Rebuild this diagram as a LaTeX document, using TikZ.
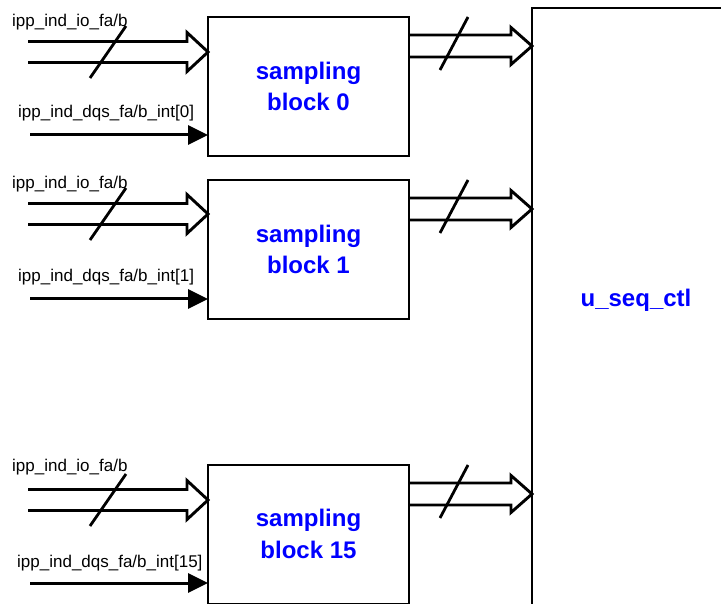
\documentclass[tikz,border=0pt]{standalone}
\usepackage{fontspec}
\setmainfont{Liberation Sans}
\usetikzlibrary{calc,arrows.meta}
\definecolor{lblblue}{RGB}{0,0,255}
\newcommand\busarrow[4]{%
  \draw[busline] ($(#1)+(0,#3)$) -- ($(#2)+(-21,#3)$) -- ($(#2)+(-21,#4)$) -- (#2)
    -- ($(#2)+(-21,-#4)$) -- ($(#2)+(-21,-#3)$) -- ($(#1)+(0,-#3)$);}
\begin{document}
\begin{tikzpicture}[x=1pt,y=-1pt,
  blk/.style={draw, line width=2pt, anchor=north west, minimum width=201pt, minimum height=139pt,
    inner sep=0pt, outer sep=0pt, align=center, text=lblblue,
    font=\fontsize{24}{31.5}\selectfont\bfseries},
  sig/.style={line width=3pt, -{Triangle[length=20pt,width=19pt]}},
  busline/.style={line width=2.9pt, line join=miter},
  slash/.style={line width=2.8pt},
  lbl/.style={anchor=base west, inner sep=0pt, font=\fontsize{17}{20}\selectfont}]
\useasboundingbox (0,0) rectangle (721,604);
\fill[white] (0,0) rectangle (721,604);
\clip (0,0) rectangle (721,604);

% controller
\node[draw, line width=2pt, anchor=north west, minimum width=260pt, minimum height=660pt,
  inner sep=0pt, outer sep=0pt] (ctl) at (532,8) {};
\node[text=lblblue, font=\fontsize{24}{30}\selectfont\bfseries] (ctllabel) at (636,300) {u\_seq\_ctl};

% blocks
\node[blk] (b0) at (208,17) {sampling\\block 0};
\node[blk] (b1) at (208,180) {sampling\\block 1};
\node[blk] (b15) at (208,464.5) {sampling\\block 15};

% labels
\node[lbl] (io0) at (12,26.5) {ipp\_ind\_io\_fa/b};
\node[lbl] (io1) at (12,188.5) {ipp\_ind\_io\_fa/b};
\node[lbl] (io15) at (12,471.5) {ipp\_ind\_io\_fa/b};
\node[lbl] (dq0) at (18,117.5) {ipp\_ind\_dqs\_fa/b\_int[0]};
\node[lbl] (dq1) at (18,281.5) {ipp\_ind\_dqs\_fa/b\_int[1]};
\node[lbl] (dq15) at (17,567.5) {ipp\_ind\_dqs\_fa/b\_int[15]};

% input buses
\coordinate (i0s) at (28,52);
\coordinate (i1s) at (28,214);
\coordinate (i15s) at (28,500);
\coordinate (i0t) at (b0.west|-i0s);
\coordinate (i1t) at (b1.west|-i1s);
\coordinate (i15t) at (b15.west|-i15s);
\busarrow{i0s}{i0t}{10.5}{19.5}
\busarrow{i1s}{i1t}{10.5}{19.5}
\busarrow{i15s}{i15t}{10.5}{19.5}

% output buses
\coordinate (o0s) at (b0.east|-0,46);
\coordinate (o1s) at (b1.east|-0,209);
\coordinate (o15s) at (b15.east|-0,494);
\coordinate (o0t) at (ctl.west|-o0s);
\coordinate (o1t) at (ctl.west|-o1s);
\coordinate (o15t) at (ctl.west|-o15s);
\busarrow{o0s}{o0t}{11}{18.5}
\busarrow{o1s}{o1t}{11}{18.5}
\busarrow{o15s}{o15t}{11}{18.5}

% bus slashes
\foreach \c/\y in {a/52,b/214,c/500}{
  \coordinate (sl\c1) at (90,\y+26);
  \coordinate (sl\c2) at (126,\y-26);
  \draw[slash] (sl\c1) -- (sl\c2);
}
\foreach \c/\y in {a/46,b/209,c/494}{
  \coordinate (so\c1) at (440,\y+24);
  \coordinate (so\c2) at (468,\y-29);
  \draw[slash] (so\c1) -- (so\c2);
}

% dqs arrows
\coordinate (d0) at (30,135);
\coordinate (d1) at (30,299);
\coordinate (d15) at (30,583);
\draw[sig] (d0) -- (b0.west|-d0);
\draw[sig] (d1) -- (b1.west|-d1);
\draw[sig] (d15) -- (b15.west|-d15);
\end{tikzpicture}
\end{document}
